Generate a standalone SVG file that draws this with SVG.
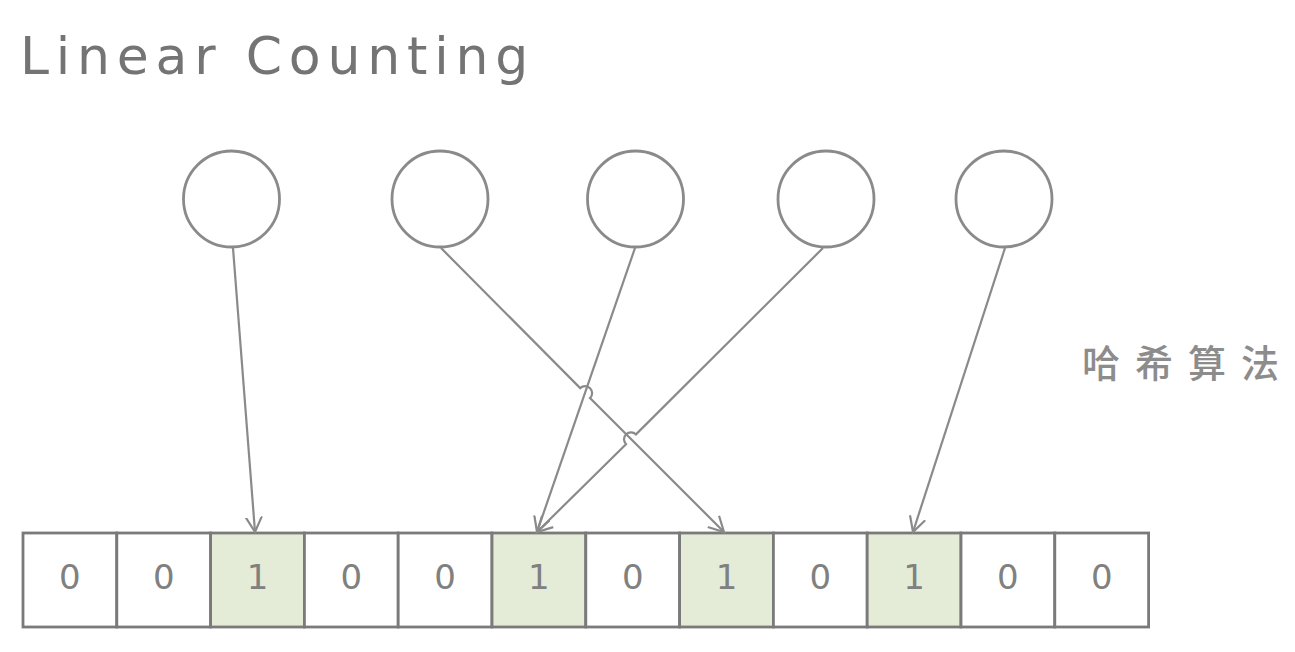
<svg xmlns="http://www.w3.org/2000/svg" width="1295" height="652" viewBox="0 0 1295 652">
<style>
.node circle{fill:#fff;stroke:#8a8a8a;stroke-width:2.8}
.cell rect{stroke:#7a7a7a;stroke-width:2.8}
.z{fill:#fff}
.o{fill:#e4ebd6}
.cell text{font-family:"DejaVu Sans",sans-serif;font-size:34px;fill:#808080;text-anchor:middle}
.conn path{fill:none;stroke:#8a8a8a;stroke-width:2.2}
</style>
<defs>
<marker id="arr" markerUnits="userSpaceOnUse" markerWidth="30" markerHeight="30" viewBox="-15 -15 30 30" refX="0" refY="0" orient="auto">
<path d="M-15,-8 L0,0 L-15,8" fill="none" stroke="#8a8a8a" stroke-width="2.2"/>
</marker>
</defs>
<rect width="1295" height="652" fill="#fff"/>
<text x="20" y="74" font-family="DejaVu Sans, sans-serif" font-size="52" letter-spacing="6.8" fill="#747474">Linear Counting</text>
<text x="1082 1135 1188 1241" y="377" font-family="'Noto Sans CJK SC', sans-serif" font-size="38" font-weight="500" fill="#8c8c8c">哈希算法</text>
<g id="n1" class="node"><circle cx="231.5" cy="199" r="48"/></g>
<g id="n2" class="node"><circle cx="440" cy="199" r="48"/></g>
<g id="n3" class="node"><circle cx="635.5" cy="199" r="48"/></g>
<g id="n4" class="node"><circle cx="826" cy="199" r="48"/></g>
<g id="n5" class="node"><circle cx="1004" cy="199" r="48"/></g>
<g id="cells" class="cell">
<g id="c0"><rect class="z" x="23" y="533" width="93.8" height="94"/><text x="69.9" y="589">0</text></g>
<g id="c1"><rect class="z" x="116.8" y="533" width="93.8" height="94"/><text x="163.7" y="589">0</text></g>
<g id="c2"><rect class="o" x="210.6" y="533" width="93.8" height="94"/><text x="257.5" y="589">1</text></g>
<g id="c3"><rect class="z" x="304.4" y="533" width="93.8" height="94"/><text x="351.3" y="589">0</text></g>
<g id="c4"><rect class="z" x="398.2" y="533" width="93.8" height="94"/><text x="445.1" y="589">0</text></g>
<g id="c5"><rect class="o" x="492" y="533" width="93.8" height="94"/><text x="538.9" y="589">1</text></g>
<g id="c6"><rect class="z" x="585.8" y="533" width="93.8" height="94"/><text x="632.7" y="589">0</text></g>
<g id="c7"><rect class="o" x="679.6" y="533" width="93.8" height="94"/><text x="726.5" y="589">1</text></g>
<g id="c8"><rect class="z" x="773.4" y="533" width="93.8" height="94"/><text x="820.3" y="589">0</text></g>
<g id="c9"><rect class="o" x="867.2" y="533" width="93.8" height="94"/><text x="914.1" y="589">1</text></g>
<g id="c10"><rect class="z" x="961" y="533" width="93.8" height="94"/><text x="1007.9" y="589">0</text></g>
<g id="c11"><rect class="z" x="1054.8" y="533" width="93.8" height="94"/><text x="1101.7" y="589">0</text></g>
</g>
<g id="connectors" class="conn">
<path d="M233,248 L255,532" marker-end="url(#arr)"/>
<path d="M441,248 L580.2,388.1 A7,7 0 0 1 590,398.1 L724,532" marker-end="url(#arr)"/>
<path d="M635,248 L537,532" marker-end="url(#arr)"/>
<path d="M823,248 L636,434.4 A7,7 0 0 0 626,444.2 L537,532" marker-end="url(#arr)"/>
<path d="M1005,248 L913,532" marker-end="url(#arr)"/>
</g>
</svg>
